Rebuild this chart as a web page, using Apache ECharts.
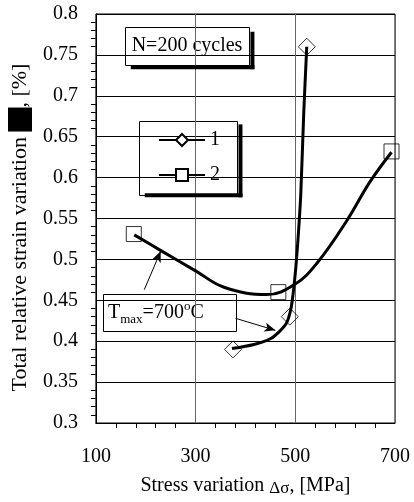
<!DOCTYPE html>
<html>
<head>
<meta charset="utf-8">
<script src="https://cdn.jsdelivr.net/npm/echarts@6/dist/echarts.min.js"></script>
<style>html,body{margin:0;padding:0;background:#fff}#c{width:414px;height:502px}</style>
</head>
<body>
<div id="c"></div>
<script>
// Axis ranges
const xRange = [100, 700, 200];
const yRange = [0.3, 0.8, 0.05];
// Measured points (markers)
const s1Points = [[375, 0.390], [489, 0.430], [523, 0.760]];
const s2Points = [[176, 0.531], [466, 0.460], [693, 0.632]];
// Fitted curves
const s1Curve = [[373, 0.391], [417, 0.396], [450, 0.403], [470, 0.413], [483, 0.423], [491, 0.439], [496, 0.460], [501, 0.490], [506, 0.530], [511, 0.580], [517, 0.680], [523, 0.760]];
const s2Curve = [[177, 0.530], [227, 0.512], [300, 0.486], [357, 0.466], [443, 0.457], [500, 0.470], [543, 0.495], [603, 0.547], [650, 0.595], [693, 0.631]];
// Annotation arrows (data coords: from -> to)
const arrows = [[[197, 0.463], [230, 0.510]], [[380, 0.428], [460, 0.4133]]];
// Drop-shadow strips (right and bottom edges) of the legend frame and the "N=200 cycles" box, data coords
const shadowStrips = [
  [[386, 0.66506], [394, 0.57590]], [[198, 0.58072], [394, 0.57590]],
  [[410, 0.77831], [418, 0.73253]], [[170, 0.73735], [418, 0.73253]]
];
const seriesNames = ['1', '2'];

const serif = '"Liberation Serif", "DejaVu Serif", serif';

const chart = echarts.init(document.getElementById('c'));
chart.setOption({
  animation: false,
  backgroundColor: '#fff',
  textStyle: { fontFamily: serif, color: '#000' },
  grid: { left: 95, right: 19, top: 14, bottom: 73, show: true, borderColor: '#000', borderWidth: 1, backgroundColor: 'transparent' },
  xAxis: {
    type: 'value', min: xRange[0], max: xRange[1], interval: xRange[2],
    name: 'Stress variation {g|Δσ}, [MPa]', nameLocation: 'middle', nameGap: 51,
    nameTextStyle: { fontFamily: serif, fontSize: 20, color: '#000', rich: { g: { fontFamily: serif, fontSize: 17, verticalAlign: 'bottom', padding: [6, 0, 0, 0] } } },
    axisLine: { show: true, lineStyle: { color: '#000', width: 1 } },
    axisTick: { show: false },
    minorTick: { show: true, splitNumber: 5, length: 5, lineStyle: { color: '#000' } },
    axisLabel: { fontFamily: serif, fontSize: 20, color: '#000', margin: 24 },
    splitLine: { show: true, lineStyle: { color: '#666', width: 1 } }
  },
  yAxis: {
    type: 'value', min: yRange[0], max: yRange[1], interval: yRange[2],
    name: 'Total relative strain variation {b| }, [%]', nameLocation: 'middle', nameGap: 60, nameRotate: 90,
    nameTextStyle: { fontFamily: serif, fontSize: 22, color: '#000', padding: [0, 18, 0, 0],
      rich: { b: { fontFamily: serif, fontSize: 22, backgroundColor: '#000', width: 24, height: 24 } } },
    axisLine: { show: true, lineStyle: { color: '#000', width: 1 } },
    axisTick: { show: false },
    minorTick: { show: true, splitNumber: 5, length: 5, lineStyle: { color: '#000' } },
    axisLabel: { fontFamily: serif, fontSize: 20, color: '#000', margin: 18 },
    splitLine: { show: true, lineStyle: { color: '#000', width: 1 } }
  },
  legend: {
    data: seriesNames,
    orient: 'vertical', left: 158, top: 130,
    itemWidth: 46, itemHeight: 15, itemGap: 15,
    padding: 0,
    backgroundColor: 'transparent', borderWidth: 0,
    itemStyle: { borderWidth: 1 },
    textStyle: { fontFamily: serif, fontSize: 20, lineHeight: 20, color: '#000' },
    selectedMode: false, z: 50
  },
  series: [
    {
      name: seriesNames[0], type: 'line', data: s1Curve, smooth: 0.3,
      symbol: 'emptyDiamond', showSymbol: false, symbolSize: 14,
      lineStyle: { color: '#000', width: 3 }, itemStyle: { color: '#000' }, z: 3
    },
    {
      name: seriesNames[1], type: 'line', data: s2Curve, smooth: 0.4,
      symbol: 'emptyRect', showSymbol: false, symbolSize: 14,
      lineStyle: { color: '#000', width: 3 }, itemStyle: { color: '#000' }, z: 3,
      markLine: {
        silent: true, symbol: ['none', 'arrow'], symbolSize: [7, 11],
        label: { show: false },
        lineStyle: { color: '#000', width: 1, type: 'solid' },
        data: arrows.map(a => [{ coord: a[0] }, { coord: a[1] }])
      }
    },
    {
      name: 'p1', type: 'scatter', data: s1Points, symbol: 'diamond', symbolSize: 17,
      itemStyle: { color: 'rgba(255,255,255,0)', borderColor: '#000', borderWidth: 1 }, z: 4,
      markArea: {
        silent: true, label: { show: false },
        itemStyle: { color: '#000', opacity: 1, borderWidth: 0 },
        data: shadowStrips.map(a => [{ coord: a[0] }, { coord: a[1] }])
      }
    },
    {
      name: 'p2', type: 'scatter', data: s2Points, symbol: 'rect', symbolSize: 15,
      itemStyle: { color: 'rgba(255,255,255,0)', borderColor: '#000', borderWidth: 1 }, z: 4
    }
  ],
  graphic: {
    z: 40,
    elements: [
      { type: 'rect', shape: { x: 139.5, y: 121.5, width: 98, height: 74 }, style: { fill: '#fff', stroke: '#000', lineWidth: 1 } },
      { type: 'rect', shape: { x: 125.5, y: 27.5, width: 124, height: 38 }, style: { fill: '#fff', stroke: '#000', lineWidth: 1 } },
      { type: 'text', x: 187, y: 46, style: { text: 'N=200 cycles', font: '20px ' + serif, fill: '#000', align: 'center', verticalAlign: 'middle' } },
      { type: 'rect', shape: { x: 103.5, y: 294.5, width: 133, height: 37 }, style: { fill: '#fff', stroke: '#000', lineWidth: 1 } },
      { type: 'text', x: 108, y: 313, style: {
        text: '{t|T}{s|max}{t|=700}{u|o}{t|C}', fill: '#000', verticalAlign: 'middle', align: 'left',
        rich: {
          t: { fontFamily: serif, fontSize: 20, lineHeight: 26, verticalAlign: 'middle' },
          s: { fontFamily: serif, fontSize: 13, lineHeight: 14, verticalAlign: 'bottom' },
          u: { fontFamily: serif, fontSize: 13, lineHeight: 13, verticalAlign: 'top' }
        } } }
    ]
  }
});
</script>
</body>
</html>
